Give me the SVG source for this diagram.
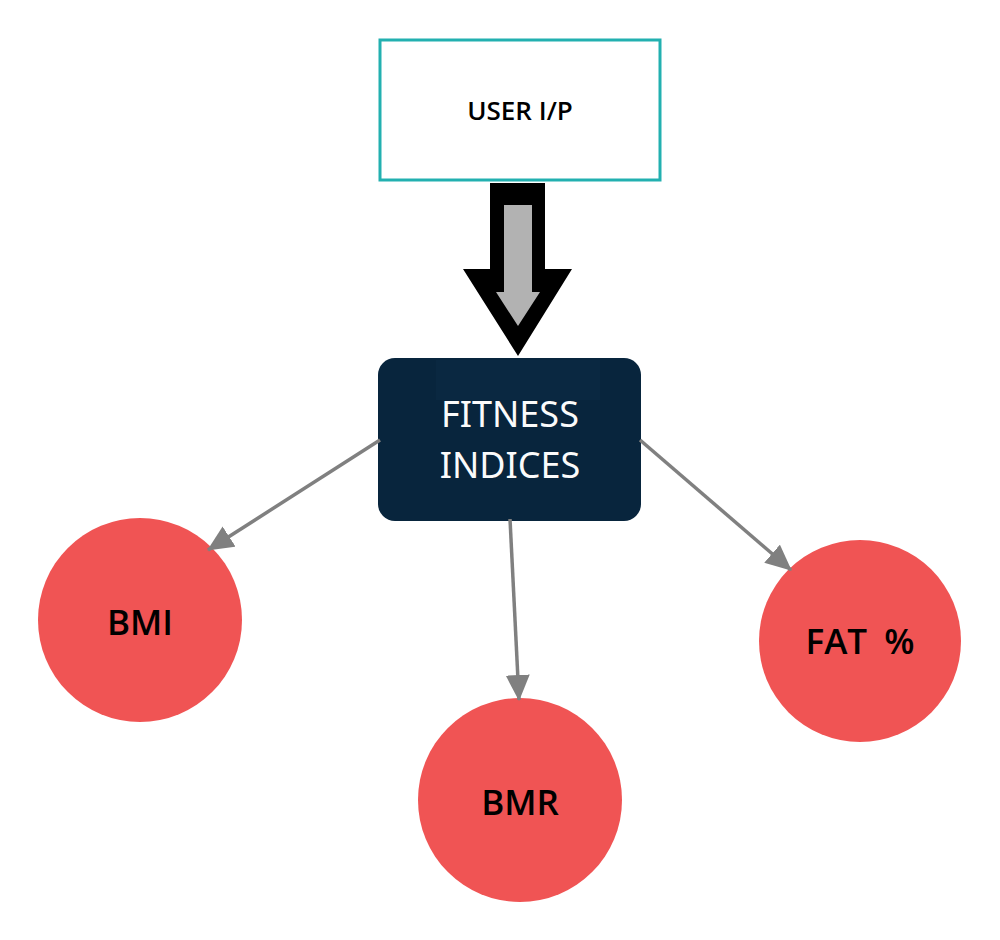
<svg xmlns="http://www.w3.org/2000/svg" width="1000" height="940" viewBox="0 0 1000 940">
<defs>
<style>
.circ{fill:#f05454;}
.lbl{font-family:"Open Sans","Noto Sans","Liberation Sans",sans-serif;font-weight:600;fill:#000;text-anchor:middle;}
.wt{font-family:"Noto Sans","Open Sans","Liberation Sans",sans-serif;font-size:36px;fill:#fbfbfb;text-anchor:middle;}
</style>
<marker id="ah2" viewBox="0 0 26 24" refX="25" refY="12" markerWidth="26" markerHeight="24" markerUnits="userSpaceOnUse" orient="auto">
<path d="M0,0 L26,12 L0,24 Z" fill="#808080"/>
</marker>
</defs>
<rect width="1000" height="940" fill="#ffffff"/>
<g id="user-ip">
<rect x="380" y="40" width="280" height="140" fill="#ffffff" stroke="#22b0b0" stroke-width="3"/>
<text x="520" y="120" class="lbl" font-size="26" font-weight="500">USER I/P</text>
</g>
<g id="big-arrow">
<polygon points="490,183 545,183 545,269 572,269 518,356 463,269 490,269" fill="#000000"/>
<polygon points="504,205 532,205 532,292 540,292 518,326 496,292 504,292" fill="#b2b2b2"/>
</g>
<g id="fitness-indices">
<rect x="378" y="358" width="263" height="163" rx="17" fill="#08253d"/>
<rect x="436" y="360" width="164" height="40" fill="#0a2841"/>
<text x="510" y="427" class="wt">FITNESS</text>
<text x="510" y="478" class="wt">INDICES</text>
</g>
<g id="bmi">
<circle cx="140" cy="620" r="102" class="circ"/>
<text x="140" y="635" class="lbl" font-size="35">BMI</text>
</g>
<g id="bmr">
<circle cx="520" cy="800" r="102" class="circ"/>
<text x="520" y="815" class="lbl" font-size="35">BMR</text>
</g>
<g id="fat">
<circle cx="860" cy="641" r="101" class="circ"/>
<text x="860" y="654" class="lbl" font-size="35">FAT <tspan dx="8">%</tspan></text>
</g>
<g id="connectors" stroke="#808080" stroke-width="3.5" fill="none">
<line x1="380" y1="440" x2="208" y2="550" marker-end="url(#ah2)"/>
<line x1="510" y1="519" x2="519" y2="700" marker-end="url(#ah2)"/>
<line x1="640" y1="440" x2="791" y2="570" marker-end="url(#ah2)"/>
</g>
</svg>
